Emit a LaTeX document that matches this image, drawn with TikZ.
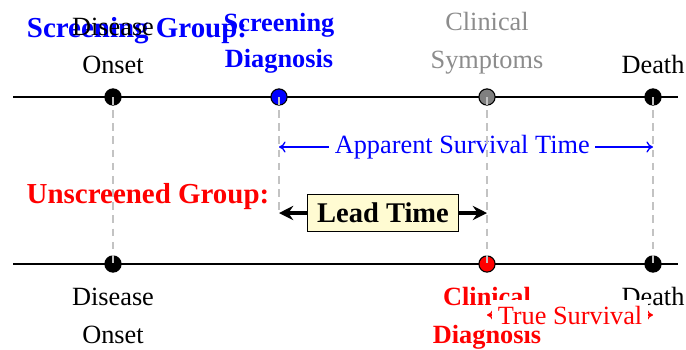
\documentclass[tikz,border=0pt]{standalone}
\usepackage{fontspec}
\setmainfont{Liberation Serif}
\usetikzlibrary{arrows.meta}
\definecolor{leadfill}{RGB}{255,251,210}
\definecolor{symgray}{RGB}{140,140,140}
\definecolor{dotgray}{RGB}{128,128,128}
\definecolor{dashgray}{RGB}{195,195,195}
\begin{document}
\begin{tikzpicture}[x=0.456pt,y=-0.456pt,
  dot/.style={circle,draw=black,line width=0.5pt,minimum size=7.4pt,inner sep=0pt},
  lbl/.style={anchor=base,inner sep=0pt,font=\fontsize{12}{14}\selectfont},
  blbl/.style={anchor=base,inner sep=0pt,font=\fontsize{12}{14}\selectfont\bfseries},
  grp/.style={anchor=base,inner sep=0pt,font=\fontsize{13.2}{15}\selectfont\bfseries},
  tline/.style={line width=1.15pt},
  guide/.style={dashgray,dash pattern=on 3.5pt off 2.5pt,line width=0.55pt},
  span/.style={line width=0.6pt,{To[length=3pt,width=5pt]}-{To[length=3pt,width=5pt]}},
  spanlbl/.style={fill=white,inner sep=2.5pt,font=\fontsize{12}{14}\selectfont},
]
\useasboundingbox (0,0) rectangle (686,349);

% timelines
\coordinate (tl) at (13,97);
\coordinate (tr) at (678,97);
\coordinate (bl) at (13,264);
\coordinate (br) at (678,264);
\draw[tline] (tl) -- (tr);
\draw[tline] (bl) -- (br);

% dots
\node[dot,fill=black]   (d1t) at (113,97) {};
\node[dot,fill=blue]    (d2t) at (279,97) {};
\node[dot,fill=dotgray] (d3t) at (487,97) {};
\node[dot,fill=black]   (d4t) at (653,97) {};
\node[dot,fill=black]   (d1b) at (113,264) {};
\node[dot,fill=red]     (d3b) at (487,264) {};
\node[dot,fill=black]   (d4b) at (653,264) {};

% group labels
\node[grp,text=blue] (sg) at (137,37) {Screening Group:};
\node[grp,text=red]  (ug) at (148,203) {Unscreened Group:};

% top labels
\node[lbl] (onA) at (113,35) {Disease};
\node[lbl] (onB) at (113,73) {Onset};
\node[blbl,text=blue] (sdA) at (279,31) {Screening};
\node[blbl,text=blue] (sdB) at (279,67) {Diagnosis};
\node[lbl,text=symgray] (csA) at (487,30) {Clinical};
\node[lbl,text=symgray] (csB) at (487,68) {Symptoms};
\node[lbl] (dtT) at (653,73) {Death};

% bottom labels
\node[lbl] (onC) at (113,305) {Disease};
\node[lbl] (onD) at (113,343) {Onset};
\node[blbl,text=red] (cdA) at (487,305) {Clinical};
\node[blbl,text=red] (cdB) at (487,343) {Diagnosis};
\node[lbl] (dtB) at (653,305) {Death};

% apparent survival time
\coordinate (a1) at (279,147);
\coordinate (a2) at (653,147);
\draw[span,blue] (a1) -- node[pos=0.49,spanlbl,text=blue] (ap) {Apparent Survival Time} (a2);

% lead time
\coordinate (l1) at (279,213);
\coordinate (l2) at (487,213);
\draw[line width=1.6pt,{Stealth[length=6.5pt,width=6.5pt,inset=2.2pt]}-{Stealth[length=6.5pt,width=6.5pt,inset=2.2pt]}]
  (l1) -- node[fill=leadfill,draw=black,line width=0.5pt,inner xsep=4.5pt,inner ysep=3.7pt,
  font=\fontsize{13}{15}\selectfont\bfseries] (lt) {Lead Time} (l2);

% guides
\draw[guide] (d1t.center) -- (d1b.center);
\draw[guide] (d2t.center) -- (l1);
\draw[guide] (d3t.center) -- (d3b.center);
\draw[guide] (d4t.center) -- (d4b.center);

% true survival
\coordinate (s1) at (487,315);
\coordinate (s2) at (653,315);
\draw[span,red] (s1) -- node[spanlbl,text=red] (ts) {True Survival} (s2);
\end{tikzpicture}
\end{document}
